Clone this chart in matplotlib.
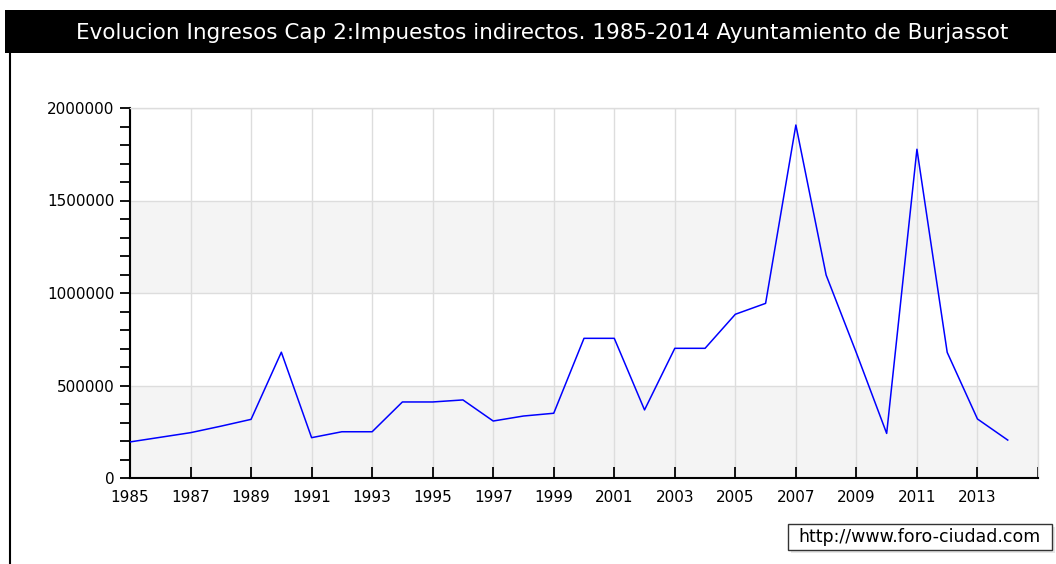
"""Evolucion Ingresos Cap 2 - Burjassot, 1985-2014 (foro-ciudad style line chart)."""
import matplotlib
matplotlib.use("Agg")
import matplotlib.pyplot as plt
from matplotlib.patches import Rectangle
from matplotlib.ticker import MultipleLocator

years = list(range(1985, 2015))
values = [195000, 220000, 245000, 280000, 317000, 680000, 218000, 250000, 250000, 411000,
          411000, 422000, 308000, 335000, 350000, 755000, 755000, 368000, 701000, 701000,
          885000, 944000, 1908000, 1097000, 676000, 241000, 1777000, 679000, 319000, 205000]
title = "Evolucion Ingresos Cap 2:Impuestos indirectos. 1985-2014 Ayuntamiento de Burjassot"
watermark = "http://www.foro-ciudad.com"

fig = plt.figure(figsize=(10.56, 5.64), dpi=100)
W, H = 1056, 564


def px_rect(x0, y0, x1, y1, **kw):
    # rectangle given in image pixels (top-left origin)
    return Rectangle((x0 / W, 1 - y1 / H), (x1 - x0) / W, (y1 - y0) / H,
                     transform=fig.transFigure, **kw)


# black title bar + left frame line
fig.patches.append(px_rect(5, 10, W, 53, facecolor="black", edgecolor="none"))
fig.text(542 / W, 1 - 33 / H, title, color="white", fontsize=15.5, ha="center", va="center")
fig.add_artist(plt.Line2D([10 / W, 10 / W], [0, 1 - 53 / H], transform=fig.transFigure,
                          color="black", lw=1.5))

ax = fig.add_axes([130 / W, 1 - 478 / H, (1038 - 130) / W, (478 - 108) / H])
for lo in (0, 1000000):
    ax.axhspan(lo, lo + 500000, color="#f4f4f4", lw=0, zorder=0)
ax.plot(years, values, color="#0000ff", lw=1.1, zorder=3)

ax.set_xlim(1985, 2015)
ax.set_ylim(0, 2000000)
ax.set_xticks(range(1985, 2016, 2))
ax.set_xticklabels([str(y) for y in range(1985, 2014, 2)] + [""])
ax.yaxis.set_minor_locator(MultipleLocator(100000))
ax.set_yticks([0, 500000, 1000000, 1500000, 2000000])
ax.set_yticklabels(["0", "500000", "1000000", "1500000", "2000000"])
ax.grid(True, color="#dddddd", lw=1, zorder=1)
ax.set_axisbelow(True)

ax.tick_params(axis="x", direction="in", length=8, width=1.3, labelsize=11, pad=9)
ax.tick_params(axis="y", which="both", direction="out", length=7, width=1.3, labelsize=11, pad=4)
for s in ("top", "right"):
    ax.spines[s].set_color("#dddddd")
    ax.spines[s].set_linewidth(1)
for s in ("left", "bottom"):
    ax.spines[s].set_linewidth(1.5)

# watermark box with soft shadow
fig.patches.append(px_rect(791, 527, 1055, 553, facecolor="#e6e6e6", edgecolor="none"))
fig.patches.append(px_rect(788, 524, 1052, 550, facecolor="white", edgecolor="#333333", lw=1))
fig.text(920 / W, 1 - 537 / H, watermark, fontsize=12.5, ha="center", va="center", color="black")

fig.savefig("out.png", dpi=100)
